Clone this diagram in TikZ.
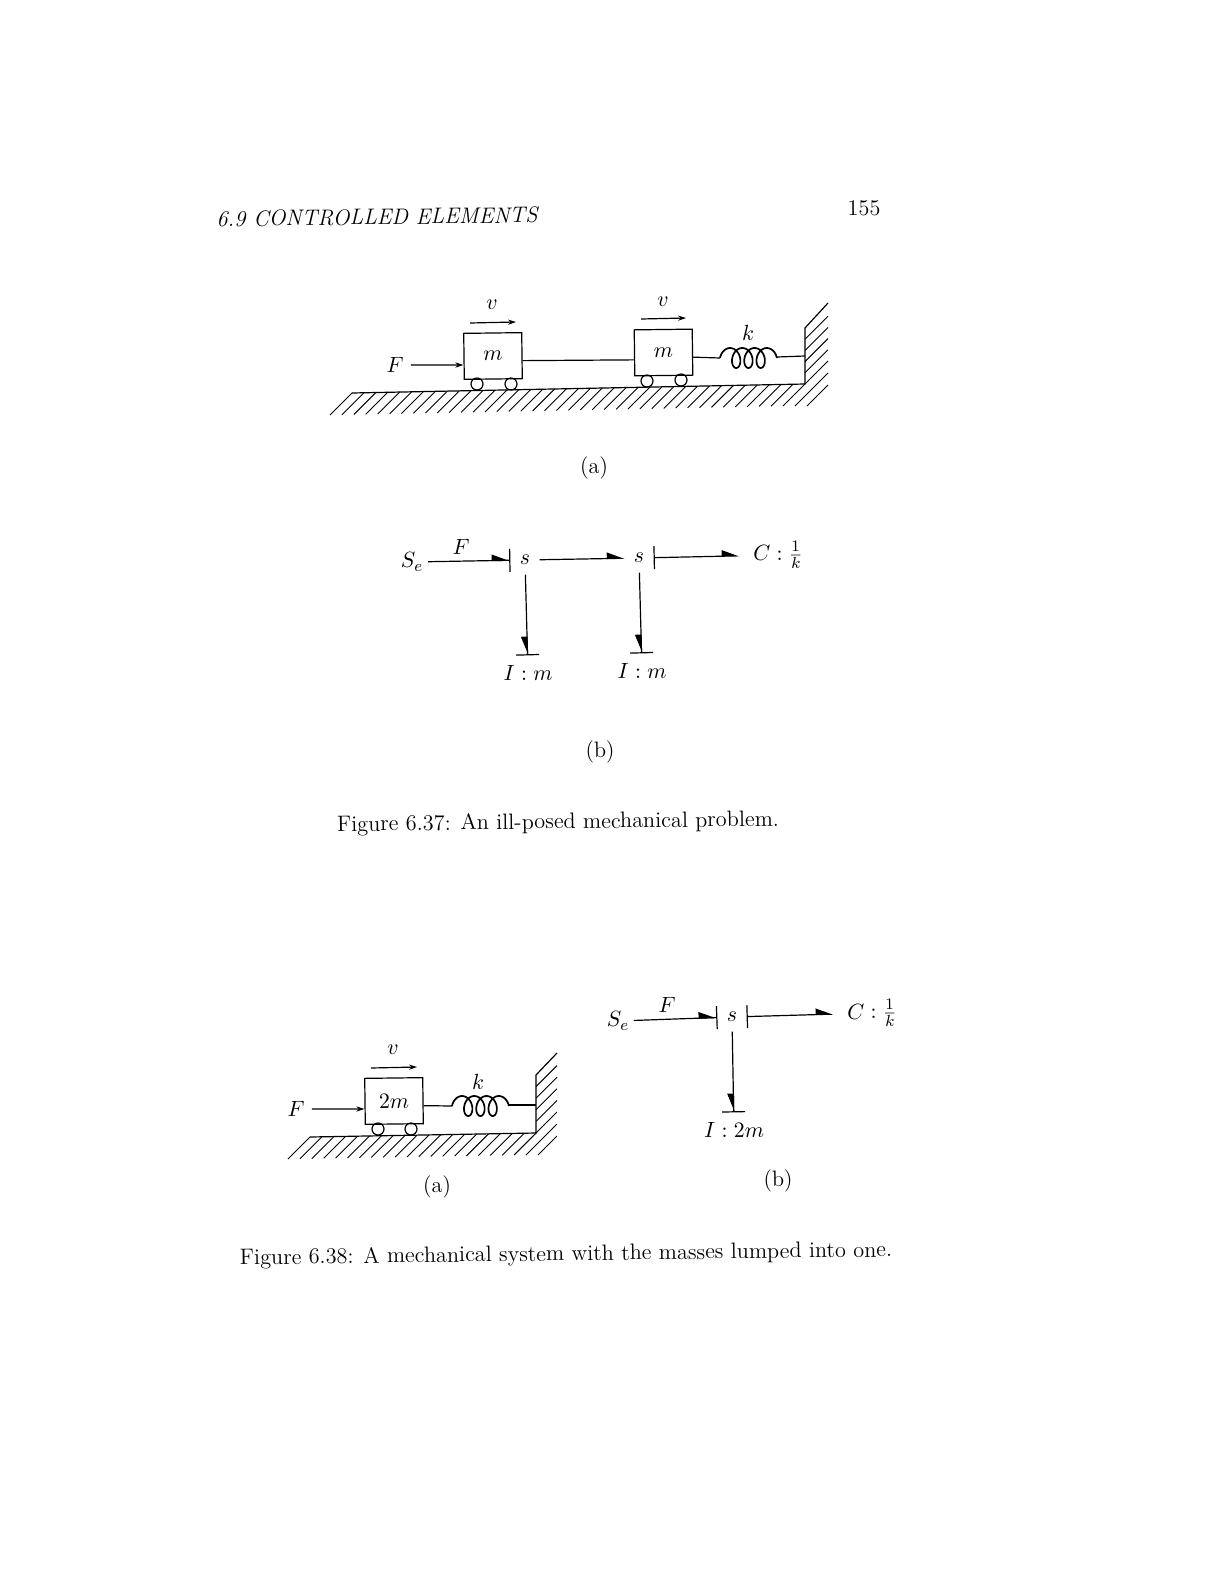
\documentclass[tikz,border=0pt]{standalone}
\usepackage{fontspec}
\usetikzlibrary{arrows.meta}

\newcommand{\springcoil}[2]{
	\draw [line width=0.85pt] plot [domain=-90:1170,samples=120,smooth] ({#1+10.06+1.95*\x*pi/180+7*sin(\x)},{#2-10*cos(\x)});
}

\tikzset{
	every node/.style={rotate=0.7,font=\fontsize{11.15}{13}\selectfont},
	mass/.style={draw,minimum width=29pt,minimum height=23pt,inner sep=0pt},
	wheel/.style={draw,circle,minimum size=6pt,inner sep=0pt},
	junction/.style={minimum size=14pt,inner sep=0pt},
	source/.style={inner sep=2pt},
	store/.style={inner sep=6.7pt},
	inert/.style={minimum height=17pt,inner sep=0pt},
	hatch/.style={line width=0.45pt},
	force/.style={-{Stealth[length=4pt,width=2.6pt]}},
	bond/.style={-{Triangle[harpoon,length=8pt,width=6pt]}},
	bondin/.style={-{Triangle[harpoon,length=8pt,width=6pt,sep=0pt]Bar[width=11.5pt]}},
	bondout/.style={{Bar[width=11.5pt]}-{Triangle[harpoon,length=8pt,width=6pt]}},
	bonddown/.style={-{Triangle[harpoon,swap,length=8pt,width=6pt,sep=0pt]Bar[width=11.5pt]}}
}

\begin{document}
\begin{tikzpicture}[x=0.5pt,y=-0.5pt,line width=0.6pt]

	\useasboundingbox (0,0) rectangle (1224,1584);
	
	\node (header) at (377,217) {\itshape 6.9 CONTROLLED ELEMENTS};
	\node (pagenum) at (864,208) {155};
	
	% figure 6.37 (a)
	\draw (352,393) -- (805,384) -- (805,328) -- (828,303);
	\foreach \i in {0,...,38} {
		\draw [hatch] ({352+\i*11.92},{393-\i*0.237}) -- ++(-22,22);
	}
	\foreach \i in {0,...,4} {
		\draw [hatch] (805,{384-\i*11.2}) -- ++(23,-23);
	}
	\draw [hatch] (795,406) -- ++(33,-33);
	\draw [hatch] (807,406) -- ++(21,-21);
	
	\node[mass] (massA) at (493,356) {$m$};
	\node[mass] (massB) at (663.5,352.5) {$m$};
	\node[wheel] (wheelA) at (477,384) {};
	\node[wheel] (wheelB) at (511,384) {};
	\node[wheel] (wheelC) at (647,381) {};
	\node[wheel] (wheelD) at (681,380) {};
	
	\node (forceA) at (395,365) {$F$};
	\node (speedA) at (492,305) {$v$};
	\node (speedB) at (663,302) {$v$};
	\node (stiffA) at (748,333) {$k$};
	
	\coordinate (speedAa) at (470,323);
	\coordinate (speedAb) at (516,322);
	\coordinate (speedBa) at (641,319);
	\coordinate (speedBb) at (686,318);
	\coordinate (coilAa) at (720,358);
	\coordinate (coilAb) at (777,357);
	\coordinate (wallA) at (805,356);
	
	\draw [force] (forceA) -- (forceA -| massA.west);
	\draw [force] (speedAa) -- (speedAb);
	\draw [force] (speedBa) -- (speedBb);
	\draw ([yshift=-2.5pt]massA.east) -- ([yshift=-3.5pt]massB.west);
	\draw ([yshift=-2.5pt]massB.east) -- (coilAa);
	\springcoil{720}{358}
	\draw (coilAb) -- (wallA);
	
	\node (labelA) at (594,468) {(a)};
	
	% figure 6.37 (b)
	\node[source] (sourceA) at (412,562) {$S_e$};
	\node (bondF) at (461,547) {$F$};
	\node[junction] (sA) at (525,560) {$s$};
	\node[junction] (sB) at (639,558) {$s$};
	\node[store] (compA) at (778,555) {$C:\frac{1}{k}$};
	\node[inert] (inertA) at (528,673) {$I:m$};
	\node[inert] (inertB) at (642,671) {$I:m$};
	
	\draw [bondin] (sourceA) -- (sA);
	\draw [bond] (sA) -- (sB);
	\draw [bondout] (sB) -- (compA);
	\draw [bonddown] (sA) -- (inertA);
	\draw [bonddown] (sB) -- (inertB);
	
	\node (labelB) at (600,752) {(b)};
	\node (captionA) at (558,823) {Figure 6.37: An ill-posed mechanical problem.};
	
	% figure 6.38 (a)
	\draw (310,1137) -- (536,1133) -- (536,1075) -- (557,1053);
	\foreach \i in {0,...,19} {
		\draw [hatch] ({310+\i*11.9},{1137-\i*0.21}) -- ++(-22,22);
	}
	\foreach \i in {0,...,4} {
		\draw [hatch] (536,{1133-\i*11.6}) -- ++(21,-21);
	}
	\draw [hatch] (526,1155) -- ++(31,-31);
	\draw [hatch] (538,1155) -- ++(19,-19);
	
	\node[mass] (massC) at (394,1101) {$2m$};
	\node[wheel] (wheelE) at (378,1129) {};
	\node[wheel] (wheelF) at (411,1129) {};
	
	\node (forceC) at (296,1109) {$F$};
	\node (speedC) at (393,1050) {$v$};
	\node (stiffC) at (478,1082) {$k$};
	
	\coordinate (speedCa) at (371,1068);
	\coordinate (speedCb) at (417,1067);
	\coordinate (coilCa) at (452,1106);
	\coordinate (coilCb) at (508,1105);
	\coordinate (wallC) at (536,1105);
	
	\draw [force] (forceC) -- (forceC -| massC.west);
	\draw [force] (speedCa) -- (speedCb);
	\draw ([yshift=-2.5pt]massC.east) -- (coilCa);
	\springcoil{452}{1106}
	\draw (coilCb) -- (wallC);
	
	\node (labelC) at (437,1187) {(a)};
	
	% figure 6.38 (b)
	\node[source] (sourceD) at (618,1021) {$S_e$};
	\node (bondG) at (667,1005) {$F$};
	\node[junction] (sD) at (732,1017) {$s$};
	\node[store] (compD) at (872,1013) {$C:\frac{1}{k}$};
	\node[inert] (inertD) at (734,1130) {$I:2m$};
	
	\draw [bondin] (sourceD) -- (sD);
	\draw [bondout] (sD) -- (compD);
	\draw [bonddown] (sD) -- (inertD);
	
	\node (labelD) at (778,1181) {(b)};
	\node (captionB) at (566,1255) {Figure 6.38: A mechanical system with the masses lumped into one.};
\end{tikzpicture}
\end{document}
